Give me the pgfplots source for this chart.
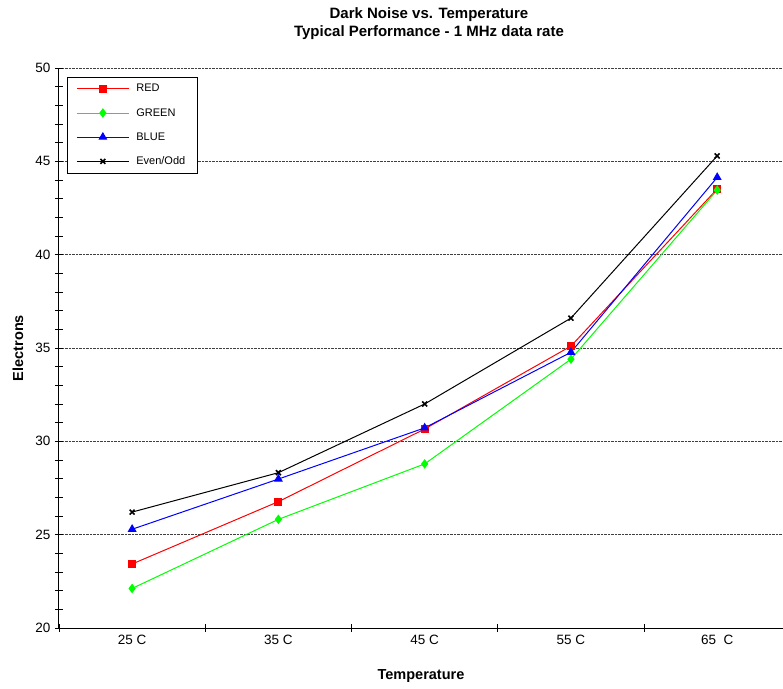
\documentclass[border=0pt]{standalone}
\usepackage{fontspec}
\setmainfont{Liberation Sans}
\usepackage{pgfplots}
\pgfplotsset{compat=1.18}
\definecolor{lime}{RGB}{0,255,0}
\begin{document}
\begin{tikzpicture}
\begin{axis}[
  scale only axis, width=724pt, height=560pt,
  xmin=-0.5, xmax=4.45, ymin=20, ymax=50,
  axis x line*=bottom, axis y line*=left,
  axis line style={line width=1pt, -},
  xtick={-0.5,0.5,1.5,2.5,3.5},
  xticklabels={},
  extra x ticks={0,1,2,3,4},
  extra x tick labels={25 C,35 C,45 C,55 C,65\ \ C},
  extra x tick style={major tick length=0pt},
  ytick={20,25,...,50},
  minor y tick num=4,
  tick align=center,
  major tick length=8pt, minor tick length=7pt,
  tick style={black, line width=0.8pt},
  minor tick style={black, line width=0.8pt},
  ymajorgrids, grid style={densely dotted, black!75, line width=0.8pt},
  /pgf/number format/assume math mode=true,
  tick label style={font=\fontsize{13.5}{16}\selectfont},
  xticklabel style={yshift=-4pt},
  yticklabel style={xshift=-1pt},
  xlabel={\textbf{Temperature}},
  ylabel={\textbf{Electrons}},
  label style={font=\fontsize{14.5}{17}\selectfont},
  xlabel style={at={(rel axis cs:0.5,0)}, anchor=center, yshift=-48pt},
  ylabel style={at={(rel axis cs:-0.0566,0.5)}, anchor=center},
  legend style={at={(rel axis cs:0.011,0.984)}, anchor=north west,
    draw=black, line width=0.8pt, fill=white,
    font=\fontsize{11}{13}\selectfont,
    inner xsep=9pt, inner ysep=4pt, row sep=9pt,
    nodes={inner sep=3pt}, cells={anchor=west},
    /tikz/every odd column/.append style={column sep=4pt}},
  legend image code/.code={\draw[mark repeat=2,mark phase=2,#1] plot coordinates {(0pt,0pt) (26pt,0pt) (52pt,0pt)};},
  clip=false,
]
\coordinate (sw) at (rel axis cs:0,0);
\addplot[red, line width=1pt, mark=square*, mark size=3.5pt, mark options={solid}] coordinates {
 (0,23.43) (1,26.77) (2,30.66) (3,35.10) (4,43.52)};
\addlegendentry{RED}
\addplot[lime, line width=1pt, mark=diamond*, mark size=4pt] coordinates {
 (0,22.12) (1,25.82) (2,28.79) (3,34.40) (4,43.46)};
\addlegendentry{GREEN}
\addplot[blue, line width=1pt, mark=triangle*, mark size=4.2pt] coordinates {
 (0,25.29) (1,27.98) (2,30.72) (3,34.77) (4,44.14)};
\addlegendentry{BLUE}
\addplot[black, line width=1pt, mark=x, mark size=3.5pt, mark options={line width=1.6pt}] coordinates {
 (0,26.21) (1,28.32) (2,32.00) (3,36.60) (4,45.29)};
\addlegendentry{Even/Odd}
\end{axis}
\path (sw) ++(370pt,613pt) node[font=\fontsize{15}{18}\selectfont\bfseries] {Dark Noise vs. Temperature};
\path (sw) ++(370pt,595pt) node[font=\fontsize{15}{18}\selectfont\bfseries] {Typical Performance - 1 MHz data rate};
\pgfresetboundingbox
\path (sw) ++(-59pt,-60pt) rectangle ++(783pt,688pt);
\end{tikzpicture}
\end{document}
